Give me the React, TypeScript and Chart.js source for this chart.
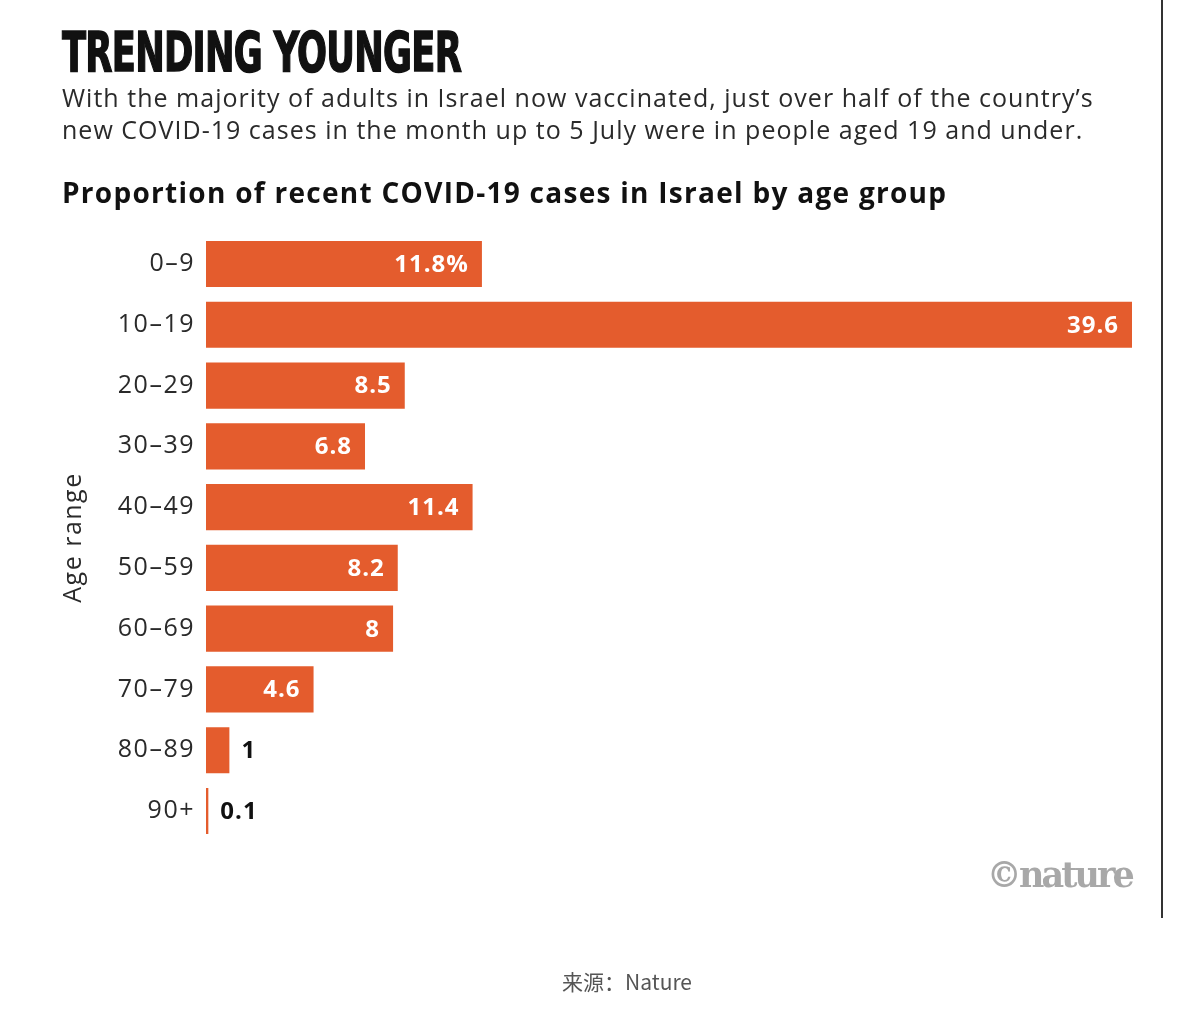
import React, { useEffect, useRef } from "react";
import { Chart, registerables } from "chart.js";

Chart.register(...registerables);

const ageGroups = ["0–9", "10–19", "20–29", "30–39", "40–49", "50–59", "60–69", "70–79", "80–89", "90+"];
const shares = [11.8, 39.6, 8.5, 6.8, 11.4, 8.2, 8, 4.6, 1, 0.1];
const valueLabels = ["11.8%", "39.6", "8.5", "6.8", "11.4", "8.2", "8", "4.6", "1", "0.1"];
const insideLabel = [true, true, true, true, true, true, true, true, false, false];

const ORANGE = "#E45C2D";
const SANS = "'Open Sans', 'DejaVu Sans', sans-serif";

const spacingPlugin = {
  id: "letterSpacing",
  beforeDraw(chart: any) {
    chart.ctx.letterSpacing = "1.5px";
  },
};

const labelPlugin = {
  id: "barValueLabels",
  afterDatasetsDraw(chart: any) {
    const ctx = chart.ctx;
    const meta = chart.getDatasetMeta(0);
    ctx.save();
    ctx.letterSpacing = "1px";
    ctx.font = `700 24px ${SANS}`;
    ctx.textBaseline = "middle";
    meta.data.forEach((bar: any, i: number) => {
      const txt = valueLabels[i];
      if (insideLabel[i]) {
        ctx.fillStyle = "#ffffff";
        ctx.textAlign = "right";
        ctx.fillText(txt, bar.x - 13, bar.y + 1);
      } else {
        ctx.fillStyle = "#111111";
        ctx.textAlign = "left";
        ctx.fillText(txt, bar.x + 12, bar.y + 1);
      }
    });
    ctx.restore();
  },
};

export default function App() {
  const ref = useRef<HTMLCanvasElement | null>(null);

  useEffect(() => {
    if (!ref.current) return;
    const chart = new Chart(ref.current, {
      type: "bar",
      data: {
        labels: ageGroups,
        datasets: [
          {
            data: shares,
            backgroundColor: ORANGE,
            borderWidth: 0,
            barPercentage: 0.76,
            categoryPercentage: 1,
          },
        ],
      },
      options: {
        indexAxis: "y",
        responsive: false,
        animation: false,
        devicePixelRatio: 1,
        layout: { padding: { top: 233.6, bottom: 174.6, left: 0, right: 68 } },
        plugins: { legend: { display: false }, tooltip: { enabled: false } },
        scales: {
          x: { display: false, min: 0, max: 39.6 },
          y: {
            grid: { display: false, drawTicks: false },
            border: { display: false },
            ticks: {
              padding: 11,
              color: "#2a2a2a",
              font: { family: SANS, size: 25 },
            },
            title: {
              display: true,
              text: "Age range",
              color: "#2a2a2a",
              font: { family: SANS, size: 25 },
              padding: { top: 59, bottom: 0 },
            },
            afterFit: (scale: any) => {
              scale.width = 206;
            },
          },
        },
      },
      plugins: [spacingPlugin, labelPlugin],
    });
    return () => chart.destroy();
  }, []);

  return (
    <div style={{ position: "absolute", left: 0, top: 0, width: 1200, height: 1016, background: "#fff", overflow: "hidden" }}>
      <canvas ref={ref} width={1200} height={1016} style={{ position: "absolute", left: 0, top: 0 }} />
      <div
        style={{
          position: "absolute",
          left: 62,
          top: 22,
          fontFamily: "'Liberation Sans Narrow', 'DejaVu Sans Condensed', sans-serif",
          fontWeight: 700,
          fontSize: 56,
          lineHeight: "60px",
          color: "#111",
          whiteSpace: "nowrap",
          transformOrigin: "left top",
          transform: "scaleX(0.70)",
          letterSpacing: -1,
          WebkitTextStroke: "1.5px #111",
        }}
      >
        TRENDING YOUNGER
      </div>
      <div
        style={{
          position: "absolute",
          left: 62,
          top: 81,
          fontFamily: SANS,
          fontSize: 25,
          lineHeight: "32px",
          color: "#2a2a2a",
          whiteSpace: "nowrap",
          letterSpacing: 1.02,
        }}
      >
        With the majority of adults in Israel now vaccinated, just over half of the country’s
        <br />
        new COVID-19 cases in the month up to 5 July were in people aged 19 and under.
      </div>
      <div
        style={{
          position: "absolute",
          left: 62,
          top: 173,
          fontFamily: SANS,
          fontWeight: 700,
          fontSize: 28,
          lineHeight: "38px",
          color: "#111",
          whiteSpace: "nowrap",
          letterSpacing: 1.28,
        }}
      >
        Proportion of recent COVID-19 cases in Israel by age group
      </div>
      <div style={{ position: "absolute", left: 1161, top: 0, width: 2, height: 918, background: "#333" }} />
      <div
        style={{
          position: "absolute",
          right: 68,
          top: 853,
          fontFamily: "'DejaVu Serif', 'Liberation Serif', serif",
          fontWeight: 700,
          fontSize: 35,
          lineHeight: "44px",
          color: "#a8a8a8",
          letterSpacing: -2.9,
          whiteSpace: "nowrap",
        }}
      >
        ©nature
      </div>
      <div
        style={{
          position: "absolute",
          left: 0,
          width: 1254,
          top: 966,
          textAlign: "center",
          fontFamily: "'Noto Sans CJK SC', 'Noto Sans', sans-serif",
          fontSize: 21,
          lineHeight: "30px",
          color: "#555",
        }}
      >
        来源：Nature
      </div>
    </div>
  );
}
